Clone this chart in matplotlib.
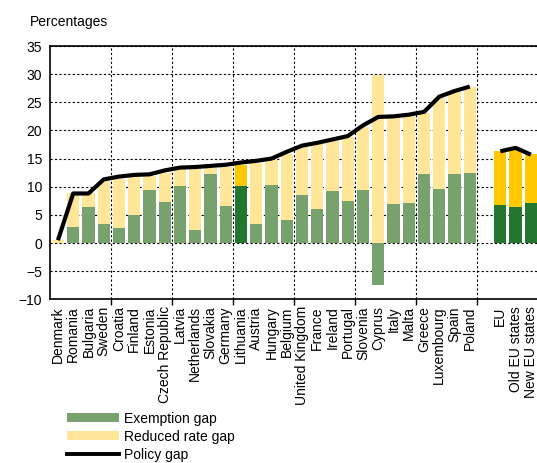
import numpy as np
import matplotlib
matplotlib.use("Agg")
import matplotlib.pyplot as plt
from matplotlib.patches import Patch
from matplotlib.lines import Line2D

plt.rcParams["font.family"] = ["Liberation Sans", "DejaVu Sans"]

countries = [
    "Denmark", "Romania", "Bulgaria", "Sweden", "Croatia", "Finland", "Estonia",
    "Czech Republic", "Latvia", "Netherlands", "Slovakia", "Germany", "Lithuania",
    "Austria", "Hungary", "Belgium", "United Kingdom", "France", "Ireland",
    "Portugal", "Slovenia", "Cyprus", "Italy", "Malta", "Greece", "Luxembourg",
    "Spain", "Poland",
]
exemption = [
    0.0, 2.9, 6.4, 3.3, 2.7, 4.9, 9.5, 7.2, 10.1, 2.3, 12.2, 6.6, 10.1,
    3.4, 10.3, 4.0, 8.5, 6.0, 9.3, 7.4, 9.4, -7.4, 7.0, 7.1, 12.2, 9.6, 12.3, 12.4,
]
reduced = [
    0.6, 5.9, 2.4, 7.8, 8.7, 6.9, 2.4, 5.3, 3.0, 10.8, 1.1, 6.9, 3.8,
    10.9, 4.4, 11.8, 8.5, 11.6, 8.9, 11.4, 11.2, 29.8, 15.3, 15.5, 10.9, 16.1, 14.5, 15.3,
]
policy = [
    0.5, 8.8, 8.8, 11.3, 11.8, 12.1, 12.2, 12.9, 13.4, 13.5, 13.7, 13.9, 14.3,
    14.6, 15.0, 16.2, 17.3, 17.8, 18.4, 19.0, 20.9, 22.4, 22.5, 22.8, 23.3, 26.0, 27.0, 27.8,
]

groups = ["EU", "Old EU states", "New EU states"]
grp_exemption = [6.7, 6.35, 7.1]
grp_reduced = [9.6, 10.45, 8.7]
grp_policy = [16.3, 16.9, 15.7]

highlight = "Lithuania"

LIGHT_GREEN = "#77a26e"
DARK_GREEN = "#23762f"
LIGHT_YELLOW = "#ffe699"
DARK_YELLOW = "#ffc800"

fig = plt.figure(figsize=(5.37, 4.63), dpi=100)
ax = fig.add_axes([0.0937, 0.3536, 0.909, 0.547])

x_c = np.arange(len(countries))
x_g = np.arange(len(groups)) + len(countries) + 1

green_c = [DARK_GREEN if c == highlight else LIGHT_GREEN for c in countries]
yellow_c = [DARK_YELLOW if c == highlight else LIGHT_YELLOW for c in countries]
bottom_c = np.maximum(np.array(exemption), 0)

w = 0.8
ax.bar(x_c, exemption, w, color=green_c, zorder=3)
ax.bar(x_c, reduced, w, bottom=bottom_c, color=yellow_c, zorder=3)
ax.plot(x_c, policy, color="black", lw=3, zorder=4, solid_capstyle="butt")

ax.bar(x_g, grp_exemption, w, color=DARK_GREEN, zorder=3)
ax.bar(x_g, grp_reduced, w, bottom=grp_exemption, color=DARK_YELLOW, zorder=3)
ax.plot(x_g, grp_policy, color="black", lw=3, zorder=4, solid_capstyle="butt")

ax.set_xlim(-0.5, 31.5)
ax.set_ylim(-10, 35)
ax.set_yticks(np.arange(-10, 36, 5))
ax.tick_params(axis="y", length=0, labelsize=10, pad=6)

ax.set_xticks(list(x_c) + list(x_g))
ax.set_xticklabels(countries + groups, rotation=90, fontsize=10)
ax.set_xticks(np.arange(3.5, 28, 4), minor=True)
ax.tick_params(axis="x", which="major", length=0, pad=5)
ax.tick_params(axis="x", which="minor", length=4, direction="out", width=1)

ax.grid(True, axis="y", which="major", ls=(0, (2, 2)), color="black", lw=0.8, zorder=1)
ax.grid(True, axis="x", which="minor", ls=(0, (2, 2)), color="black", lw=0.8, zorder=1)
ax.grid(False, axis="x", which="major")

for s in ["left", "bottom", "top"]:
    ax.spines[s].set_linewidth(1.2)
ax.spines["right"].set_visible(False)

fig.text(30 / 537, 1 - 22 / 463, "Percentages", fontsize=10, va="center", ha="left")

handles = [
    Patch(facecolor=LIGHT_GREEN, label="Exemption gap"),
    Patch(facecolor=LIGHT_YELLOW, label="Reduced rate gap"),
    Line2D([], [], color="black", lw=2.8, label="Policy gap"),
]
fig.legend(handles=handles, loc="upper left", bbox_to_anchor=(0.124, 0.111),
           frameon=False, fontsize=10, handlelength=3.8, handleheight=0.6,
           labelspacing=0.3, handletextpad=0.3, borderpad=0, borderaxespad=0)

fig.savefig("out.png", dpi=100)
